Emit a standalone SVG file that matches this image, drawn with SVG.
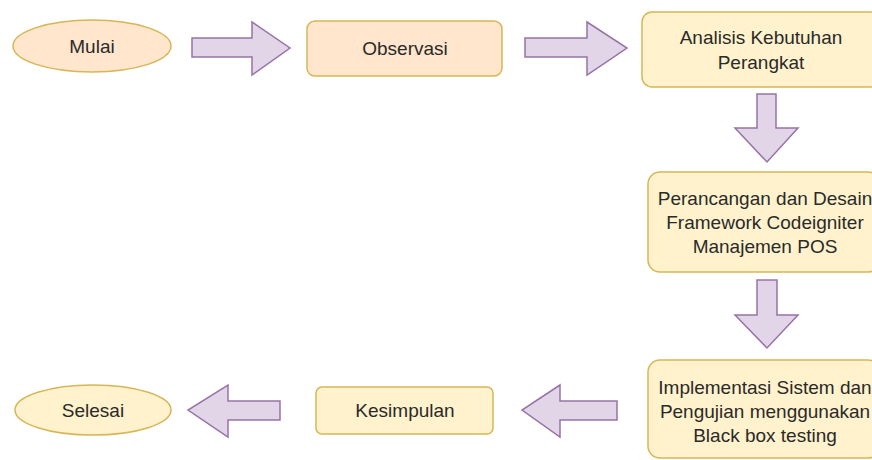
<svg xmlns="http://www.w3.org/2000/svg" width="872" height="460" viewBox="0 0 872 460">
<style>
.peach{fill:#ffe6cc;stroke:#d6b656;stroke-width:1.5}
.yel{fill:#fff2cc;stroke:#d6b656;stroke-width:1.5}
.arr{fill:#e1d5e7;stroke:#9673a6;stroke-width:1.5;stroke-linejoin:miter}
text{font-family:"Liberation Sans",Arial,sans-serif;font-size:19px;fill:#2a2a2a;text-anchor:middle;dominant-baseline:central}
</style>
<rect width="872" height="460" fill="#ffffff"/>
<g id="connectors">
<polygon class="arr" points="192,38 252,38 252,22 290,48 252,75 252,57 192,57"/>
<polygon class="arr" points="525,38 587,38 587,22 627,48 587,75 587,57 525,57"/>
<polygon class="arr" points="757,94 776,94 776,128 798,128 767,162 735,128 757,128"/>
<polygon class="arr" points="757,280 777,280 777,315 798,315 767,348 735,315 757,315"/>
<polygon class="arr" points="617,401 560,401 560,385 522,410 560,437 560,420 617,420"/>
<polygon class="arr" points="280,401 228,401 228,385 188,410 228,437 228,420 280,420"/>
</g>
<g id="mulai">
<ellipse class="peach" cx="92" cy="46" rx="79" ry="26"/>
<text x="92" y="46">Mulai</text>
</g>
<g id="observasi">
<rect class="peach" x="307" y="21" width="195" height="55" rx="8"/>
<text x="405" y="48">Observasi</text>
</g>
<g id="analisis">
<rect class="yel" x="642" y="12" width="238" height="75" rx="10"/>
<text x="761" y="37">Analisis Kebutuhan</text>
<text x="761" y="62">Perangkat</text>
</g>
<g id="perancangan">
<rect class="yel" x="648" y="172" width="232" height="100" rx="12"/>
<text x="765" y="198">Perancangan dan Desain</text>
<text x="765" y="222">Framework Codeigniter</text>
<text x="765" y="246">Manajemen POS</text>
</g>
<g id="implementasi">
<rect class="yel" x="648" y="360" width="232" height="98" rx="12"/>
<text x="765" y="387">Implementasi Sistem dan</text>
<text x="765" y="411">Pengujian menggunakan</text>
<text x="765" y="435">Black box testing</text>
</g>
<g id="kesimpulan">
<rect class="yel" x="316" y="387" width="177" height="47" rx="6"/>
<text x="405" y="410">Kesimpulan</text>
</g>
<g id="selesai">
<ellipse class="yel" cx="93" cy="410" rx="78" ry="25"/>
<text x="93" y="410">Selesai</text>
</g>
</svg>
